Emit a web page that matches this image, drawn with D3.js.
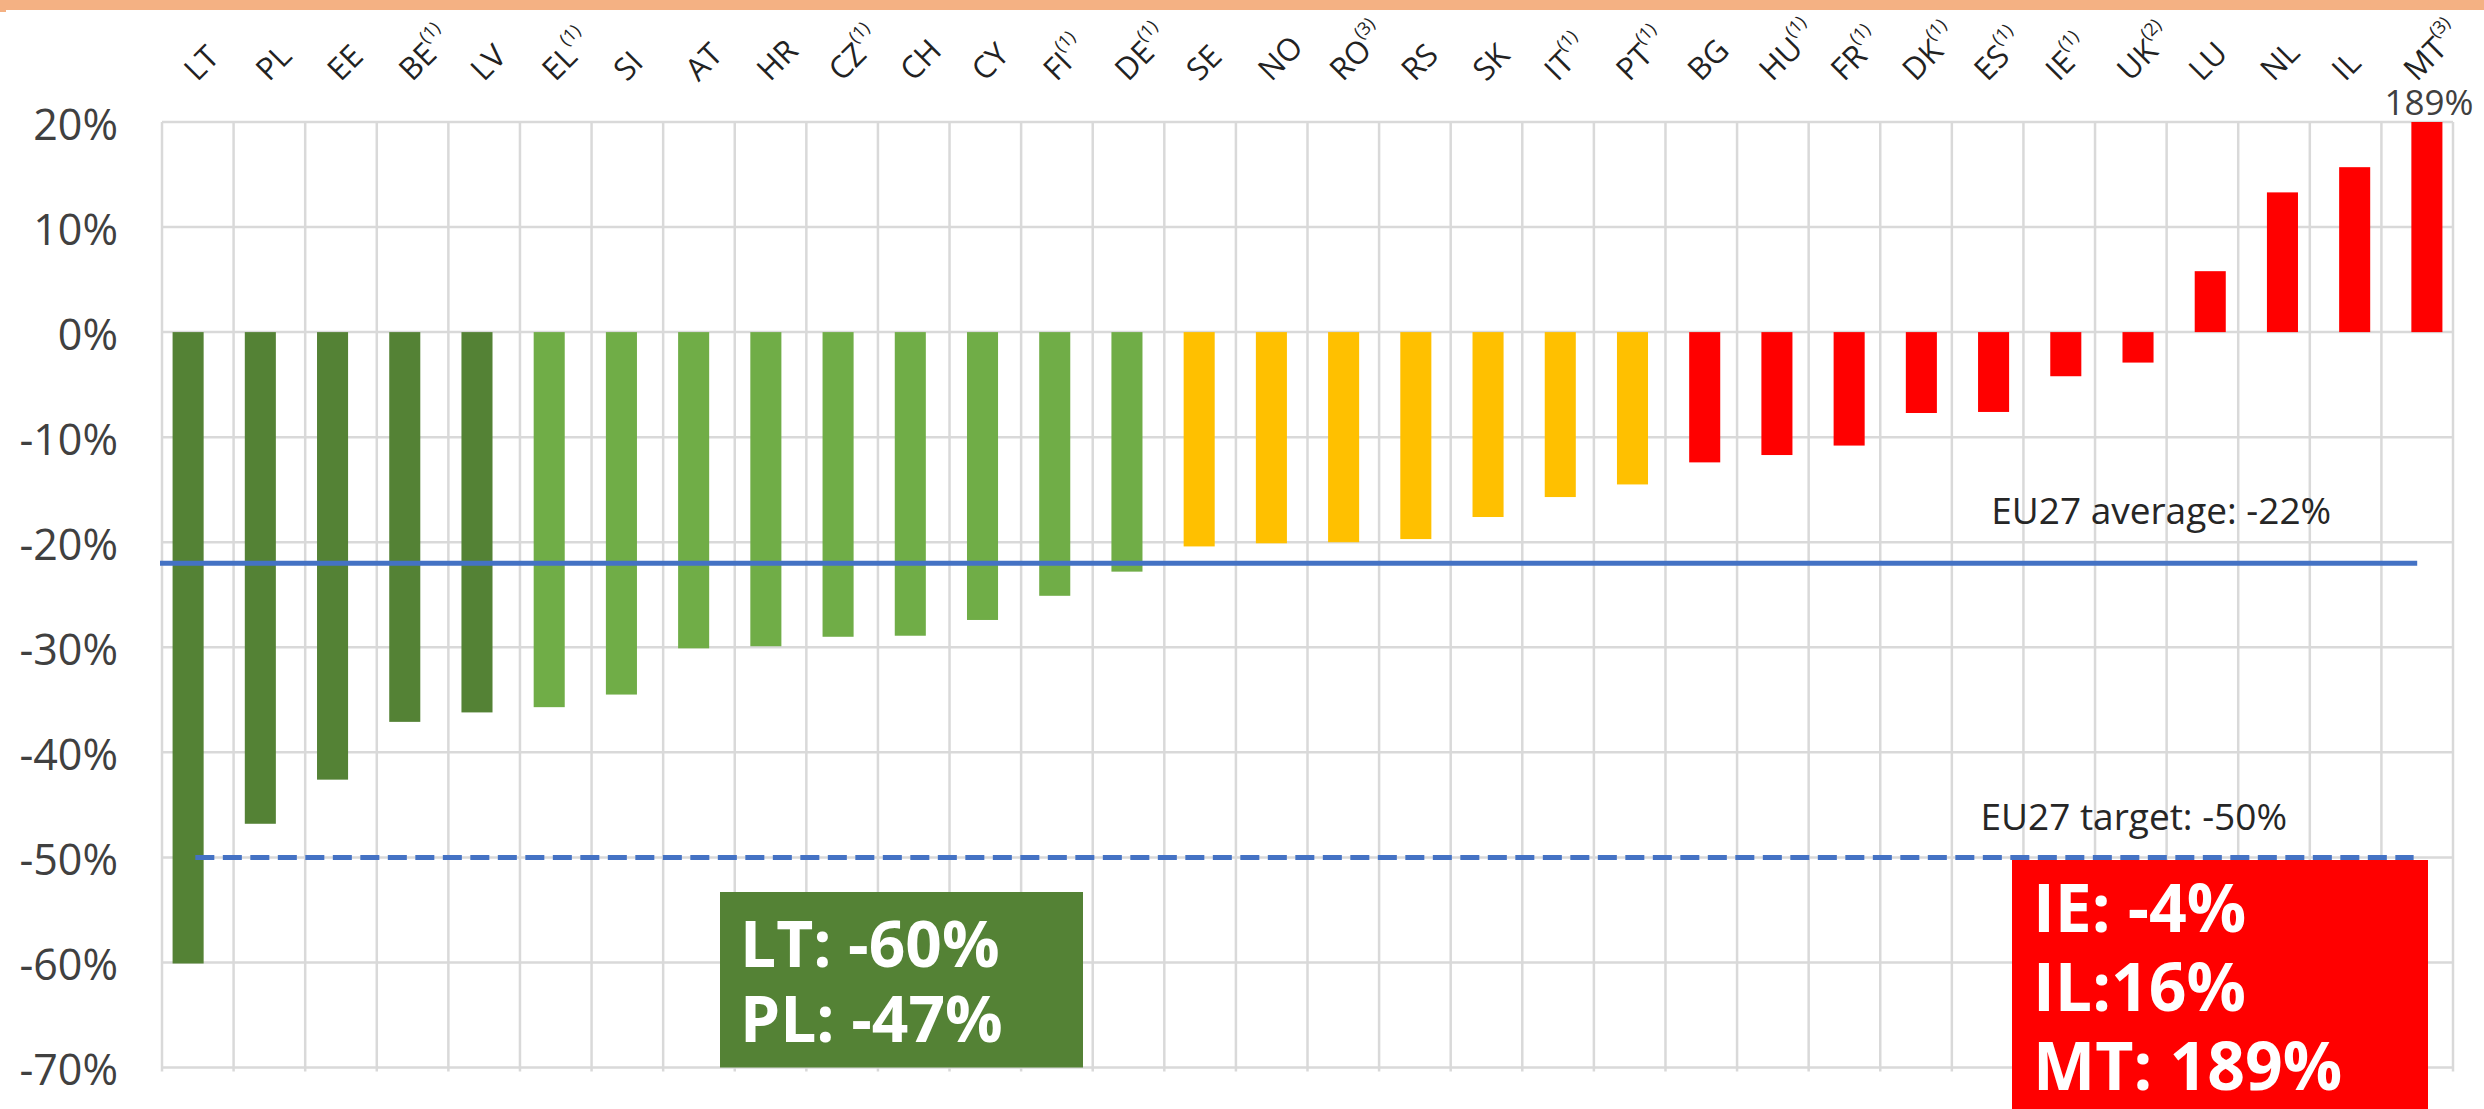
<!DOCTYPE html>
<html>
<head>
<meta charset="utf-8">
<script src="https://cdn.jsdelivr.net/npm/d3@7"></script>
<style>
  body { margin: 0; background: #fff; }
  svg { display: block; font-family: "Open Sans", sans-serif; }
</style>
</head>
<body>
<div id="chart"></div>
<script>
// Data
const countries = ["LT", "PL", "EE", "BE", "LV", "EL", "SI", "AT", "HR", "CZ", "CH", "CY", "FI", "DE", "SE", "NO",
    "RO", "RS", "SK", "IT", "PT", "BG", "HU", "FR", "DK", "ES", "IE", "UK", "LU", "NL", "IL", "MT"];
const notes = ["", "", "", "1", "", "1", "", "", "", "1", "", "", "1", "1", "", "",
    "3", "", "", "1", "1", "", "1", "1", "1", "1", "1", "2", "", "", "", "3"];
const change = [-60.1, -46.8, -42.6, -37.1, -36.2, -35.7, -34.5, -30.1, -29.9, -29.0, -28.9, -27.4, -25.1, -22.8, -20.4, -20.1,
    -20.0, -19.7, -17.6, -15.7, -14.5, -12.4, -11.7, -10.8, -7.7, -7.6, -4.2, -2.9, 5.8, 13.3, 15.7, 189];
const groups = [0, 0, 0, 0, 0, 1, 1, 1, 1, 1, 1, 1, 1, 1, 2, 2,
    2, 2, 2, 2, 2, 3, 3, 3, 3, 3, 3, 3, 3, 3, 3, 3];
const yTicks = [20, 10, 0, -10, -20, -30, -40, -50, -60, -70];
const euAverage = -22;
const euTarget = -50;
const greenNote = ["LT: -60%", "PL: -47%"];
const redNote = ["IE: -4%", "IL:16%", "MT: 189%"];

// Layout
const w = 2484;
const h = 1109;
const p = { left: 162, right: 2453, top: 122, bottom: 1067.5 };
const groupColor = ["#548235", "#70ad47", "#ffc000", "#ff0000"];

// Scales
const xGrid = d3.scaleBand().domain(countries).range([p.left, p.right]);
const xBar = d3.scaleBand().domain(countries).range([p.left - 10, p.right + 10]);
const barW = xBar.bandwidth() * 0.43;
const y = d3.scaleLinear().domain([-70, 20]).range([p.bottom, p.top]).clamp(true);

const svg = d3.select("#chart")
    .append("svg")
    .attr("width", w)
    .attr("height", h);

// orange strip on top
svg.append("rect").attr("x", 0).attr("y", 0).attr("width", w).attr("height", 10).attr("fill", "#f4b183");
svg.append("rect").attr("x", 0).attr("y", 10).attr("width", 6).attr("height", 2).attr("fill", "#f4b183");

// Gridlines
const grid = svg.append("g").attr("stroke", "#d9d9d9").attr("stroke-width", 2.5);
grid.selectAll("line.h")
    .data(yTicks)
    .join("line")
    .attr("class", "h")
    .attr("x1", p.left)
    .attr("x2", p.right)
    .attr("y1", d => y(d))
    .attr("y2", d => y(d));
grid.selectAll("line.v")
    .data(countries.map(c => xGrid(c)).concat([p.right]))
    .join("line")
    .attr("class", "v")
    .attr("x1", d => d)
    .attr("x2", d => d)
    .attr("y1", p.top)
    .attr("y2", p.bottom + 4);

// Bars
svg.append("g")
    .selectAll("rect")
    .data(countries)
    .join("rect")
    .attr("x", d => xBar(d) + (xBar.bandwidth() - barW) / 2)
    .attr("width", barW)
    .attr("y", (d, i) => Math.min(y(0), y(change[i])))
    .attr("height", (d, i) => Math.abs(y(change[i]) - y(0)))
    .attr("fill", (d, i) => groupColor[groups[i]]);

// Reference lines
svg.append("line")
    .attr("x1", p.left - 2)
    .attr("x2", xGrid("IL") + xGrid.bandwidth() * 1.5)
    .attr("y1", y(euAverage))
    .attr("y2", y(euAverage))
    .attr("stroke", "#4472c4")
    .attr("stroke-width", 5);
svg.append("line")
    .attr("x1", xBar("LT") + xBar.bandwidth() * 0.6)
    .attr("x2", xGrid("IL") + xGrid.bandwidth() * 1.45)
    .attr("y1", y(euTarget))
    .attr("y2", y(euTarget))
    .attr("stroke", "#4472c4")
    .attr("stroke-width", 5)
    .attr("stroke-dasharray", "19,8.5");

svg.append("text")
    .attr("x", xGrid("ES") + xGrid.bandwidth() * 0.55)
    .attr("y", y(euAverage) - 39)
    .attr("fill", "#262626")
    .style("font-size", "37px")
    .text("EU27 average: -22%");
svg.append("text")
    .attr("x", xGrid("ES") + xGrid.bandwidth() * 0.4)
    .attr("y", y(euTarget) - 27)
    .attr("fill", "#262626")
    .style("font-size", "37px")
    .text("EU27 target: -50%");

// Value above the clipped MT bar
svg.append("text")
    .attr("x", xBar("MT") + xBar.bandwidth() / 2 + 2)
    .attr("y", p.top - 7)
    .attr("text-anchor", "middle")
    .attr("fill", "#404040")
    .style("font-size", "35px")
    .text(change[countries.indexOf("MT")] + "%");

// Y axis
const yAxis = d3.axisLeft(y)
    .tickValues(yTicks)
    .tickFormat(d => d + "%")
    .tickSize(0)
    .tickPadding(44);
svg.append("g")
    .attr("transform", "translate(" + p.left + ",0)")
    .call(yAxis)
    .call(g => g.select(".domain").remove())
    .call(g => g.selectAll("text")
        .attr("dy", "0.4em")
        .attr("fill", "#404040")
        .style("font-family", "'Open Sans', sans-serif")
        .style("font-size", "43px"));

// Category labels (top, rotated)
const cat = svg.append("g")
    .selectAll("text")
    .data(countries)
    .join("text")
    .attr("transform", d => `translate(${xGrid(d) + xGrid.bandwidth() / 2 - 9},74) rotate(-45)`)
    .attr("dominant-baseline", "central")
    .attr("fill", "#222")
    .style("font-size", "31px");
cat.append("tspan").text(d => d);
cat.filter(d => notes[countries.indexOf(d)] !== "")
    .append("tspan")
    .attr("dy", -12)
    .style("font-size", "18px")
    .text(d => "(" + notes[countries.indexOf(d)] + ")");

// Note boxes
const gBox = svg.append("g");
gBox.append("rect")
    .attr("x", 720)
    .attr("y", 892)
    .attr("width", 363)
    .attr("height", y(-70) - 892)
    .attr("fill", "#548235");
gBox.selectAll("text")
    .data(greenNote)
    .join("text")
    .attr("x", 740)
    .attr("y", (d, i) => 967 + i * 75)
    .attr("fill", "#fff")
    .style("font-size", "64px")
    .style("font-weight", "bold")
    .text(d => d);

const rBox = svg.append("g");
rBox.append("rect")
    .attr("x", 2012)
    .attr("y", 860)
    .attr("width", 416)
    .attr("height", 260)
    .attr("fill", "#ff0000");
rBox.selectAll("text")
    .data(redNote)
    .join("text")
    .attr("x", 2033)
    .attr("y", (d, i) => 932 + i * 79)
    .attr("fill", "#fff")
    .style("font-size", "66px")
    .style("font-weight", "bold")
    .text(d => d);
</script>
</body>
</html>
